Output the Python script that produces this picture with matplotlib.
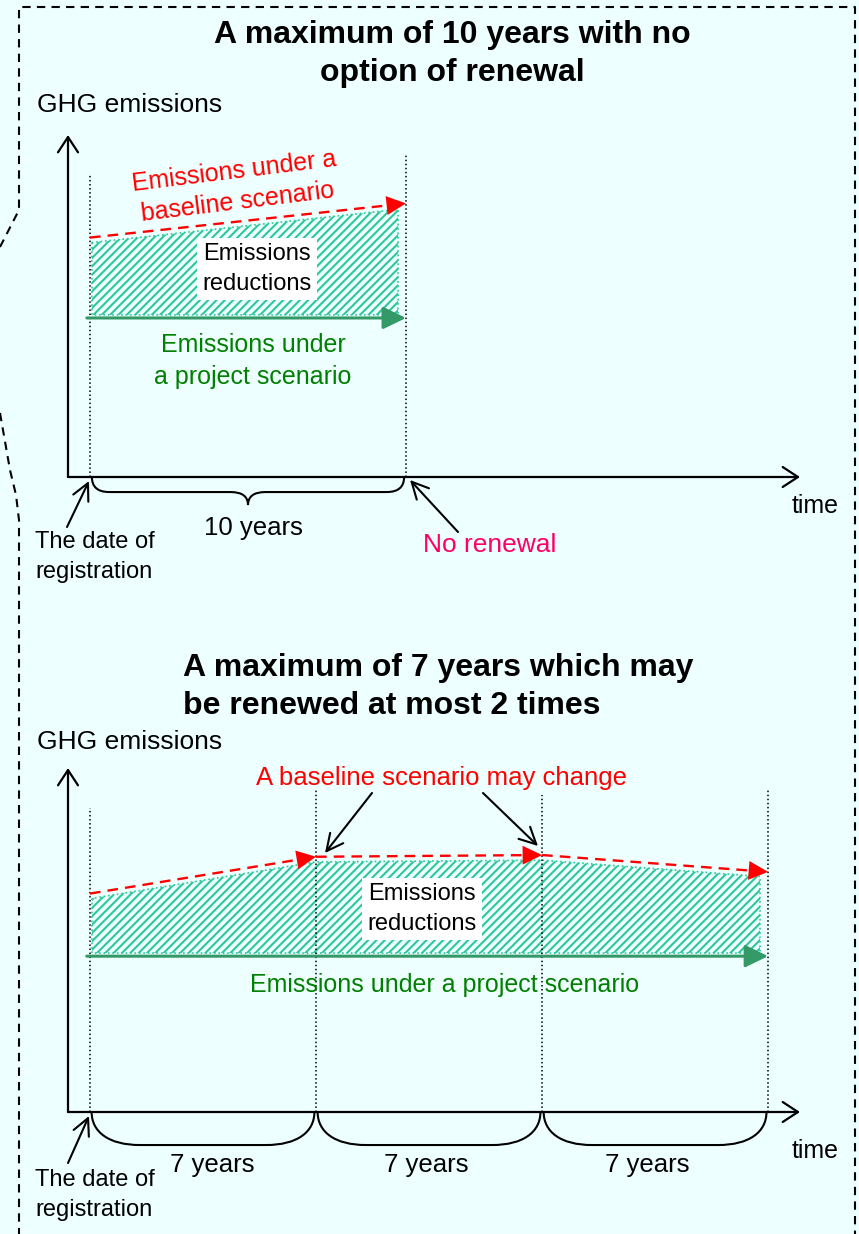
import numpy as np
import matplotlib
matplotlib.use("Agg")
import matplotlib.pyplot as plt
from matplotlib.path import Path
from matplotlib.patches import PathPatch

plt.rcParams['font.family'] = ['Liberation Sans', 'DejaVu Sans']
plt.rcParams['hatch.linewidth'] = 1.5

BG = '#EEFFFF'
RED = '#FF0000'
HATCH = '#2EC79B'
GREEN_LINE = '#339966'
GREEN_TXT = '#008000'
PINK = '#FF0066'

# crediting periods (years) and emission levels (arbitrary units, axis top = 10)
top_periods = [10]
top_baseline = [7.0, 8.0]          # baseline level at each period boundary
top_project = 4.65

bot_periods = [7, 7, 7]
bot_baseline = [6.35, 7.42, 7.47, 6.98]
bot_project = 4.53

W, H = 859, 1234
fig = plt.figure(figsize=(W / 100, H / 100), dpi=100, facecolor=BG)


def make_panel(left, right, bottom, top, x0, ppy):
    ax = fig.add_axes([left / W, 1 - bottom / H, (right - left) / W, (bottom - top) / H])
    ax.set_xlim((left - x0) / ppy, (right - x0) / ppy)
    ax.set_ylim(0, 10)
    ax.axis('off')
    ax.patch.set_alpha(0)
    ax_arrow = dict(arrowstyle='->,head_length=0.55,head_width=0.36', lw=1.6, color='k',
                    mutation_scale=20, shrinkA=0, shrinkB=0)
    ax.annotate('', xy=(0, 1), xytext=(0, 0), xycoords='axes fraction', arrowprops=ax_arrow)
    ax.annotate('', xy=(1, 0), xytext=(0, 0), xycoords='axes fraction', arrowprops=ax_arrow)
    return ax


def draw_scenario(ax, periods, baseline, project, vtops):
    bounds = np.concatenate([[0], np.cumsum(periods)])
    for b, vt in zip(bounds, vtops):
        ax.plot([b, b], [0, vt], ls=':', color='k', lw=1.1)
    # hatched reductions area
    xs = np.concatenate([[bounds[0] + 0.06], bounds[1:-1], [bounds[-1] - 0.25]])
    ytop = np.interp(xs, bounds, baseline) - 0.15
    ax.fill_between(xs, project + 0.09, ytop, facecolor='none', edgecolor=HATCH,
                    hatch='////', lw=1.2, ls=':')
    # baseline (dashed red with heads at each boundary)
    head = dict(arrowstyle='-|>,head_length=0.7,head_width=0.34', lw=0,
                mutation_scale=20, shrinkA=0, shrinkB=0)
    for i in range(len(periods)):
        ax.plot([bounds[i], bounds[i + 1]], [baseline[i], baseline[i + 1]],
                color=RED, lw=1.7, dashes=(4.5, 3))
        ax.annotate('', xy=(bounds[i + 1], baseline[i + 1]), xytext=(bounds[i], baseline[i]),
                    arrowprops=dict(head, color=RED))
    # project line
    ax.annotate('', xy=(bounds[-1], project), xytext=(bounds[0] - 0.1, project),
                arrowprops=dict(arrowstyle='-|>,head_length=0.7,head_width=0.34',
                                color=GREEN_LINE, lw=2.2, mutation_scale=20,
                                shrinkA=0, shrinkB=0))
    return bounds


def curly_brace(ax, x0, x1, d1, d2, r):
    xm = (x0 + x1) / 2
    verts = [(x0, 0), (x0, -d1), (x0 + r, -d1), (xm - r, -d1), (xm, -d1), (xm, -d2),
             (xm, -d1), (xm + r, -d1), (x1 - r, -d1), (x1, -d1), (x1, 0)]
    codes = [Path.MOVETO, Path.CURVE3, Path.CURVE3, Path.LINETO, Path.CURVE3, Path.CURVE3,
             Path.CURVE3, Path.CURVE3, Path.LINETO, Path.CURVE3, Path.CURVE3]
    ax.add_patch(PathPatch(Path(verts, codes), fc='none', ec='k', lw=1.5, clip_on=False))


def u_brace(ax, x0, x1, d, r):
    verts = [(x0, 0), (x0, -d * 0.6), (x0 + r * 0.35, -d), (x0 + r, -d), (x1 - r, -d),
             (x1 - r * 0.35, -d), (x1, -d * 0.6), (x1, 0)]
    codes = [Path.MOVETO, Path.CURVE4, Path.CURVE4, Path.CURVE4, Path.LINETO,
             Path.CURVE4, Path.CURVE4, Path.CURVE4]
    ax.add_patch(PathPatch(Path(verts, codes), fc='none', ec='k', lw=1.5, clip_on=False))


# ---- top panel
ax1 = make_panel(68, 800, 477, 135, 90, 31.6)
b1 = draw_scenario(ax1, top_periods, top_baseline, top_project, [8.83, 9.42])
curly_brace(ax1, b1[0] + 0.06, b1[-1] - 0.06, 0.44, 0.82, 0.55)

# ---- bottom panel
ax2 = make_panel(68, 800, 1112, 768, 90, 32.29)
b2 = draw_scenario(ax2, bot_periods, bot_baseline, bot_project, [8.84, 9.36, 9.22, 9.36])
for i in range(len(bot_periods)):
    u_brace(ax2, b2[i] + 0.05, b2[i + 1] - 0.05, 0.96, 1.5)

# ---- overlay in pixel coordinates for text and frame
ov = fig.add_axes([0, 0, 1, 1])
ov.set_xlim(0, W)
ov.set_ylim(H, 0)
ov.axis('off')
ov.patch.set_alpha(0)

ov.plot([0, 19, 19, 855, 855], [247, 210, 7, 7, 1240], color='k', lw=1.5, dashes=(4, 3))
ov.plot([0, 10, 16, 19, 19], [413, 470, 495, 520, 1240], color='k', lw=1.5, dashes=(4, 3))

ov.text(452, 54, 'A maximum of 10 years with no\noption of renewal', ha='center', va='center',
        fontsize=23, fontweight='bold', linespacing=1.35)
ov.text(183, 687, 'A maximum of 7 years which may\nbe renewed at most 2 times', ha='left',
        va='center', fontsize=23, fontweight='bold', linespacing=1.35)

for y in (105, 742):
    ov.text(37, y, 'GHG emissions', ha='left', va='center', fontsize=19)
ov.text(815, 506, 'time', ha='center', va='center', fontsize=18)
ov.text(815, 1151, 'time', ha='center', va='center', fontsize=18)

ov.text(236, 187, 'Emissions under a\nbaseline scenario', ha='center', va='center',
        fontsize=18, color=RED, rotation=7, rotation_mode='anchor', linespacing=1.35)
ov.text(257, 269, 'Emissions\nreductions', ha='center', va='center', fontsize=17,
        linespacing=1.45, bbox=dict(fc='white', ec='none', pad=4))
ov.text(253, 361, 'Emissions under\na project scenario', ha='center', va='center',
        fontsize=18, color=GREEN_TXT, linespacing=1.45)
ov.text(253, 528, '10 years', ha='center', va='center', fontsize=18.5)
ov.text(490, 545, 'No renewal', ha='center', va='center', fontsize=19, color=PINK)

ov.text(442, 778, 'A baseline scenario may change', ha='center', va='center',
        fontsize=18.5, color=RED)
ov.text(422, 909, 'Emissions\nreductions', ha='center', va='center', fontsize=17,
        linespacing=1.45, bbox=dict(fc='white', ec='none', pad=4))
ov.text(445, 985, 'Emissions under a project scenario', ha='center', va='center',
        fontsize=18, color=GREEN_TXT)
for x, lab in zip([212, 426, 647], ['7 years'] * 3):
    ov.text(x, 1165, lab, ha='center', va='center', fontsize=18.5)

for y in (557, 1195):
    ov.text(35, y, 'The date of\nregistration', ha='left', va='center', fontsize=17,
            linespacing=1.45)

ptr = dict(arrowstyle='->,head_length=0.6,head_width=0.3', lw=1.5, color='k',
           mutation_scale=20, shrinkA=0, shrinkB=0)
ov.annotate('', xy=(89, 481), xytext=(67, 527), arrowprops=ptr)
ov.annotate('', xy=(410, 480), xytext=(458, 532), arrowprops=ptr)
ov.annotate('', xy=(89, 1116), xytext=(68, 1163), arrowprops=ptr)
ov.annotate('', xy=(325, 853), xytext=(372, 793), arrowprops=ptr)
ov.annotate('', xy=(538, 846), xytext=(483, 793), arrowprops=ptr)

fig.savefig('out.png', dpi=100, facecolor=BG)
